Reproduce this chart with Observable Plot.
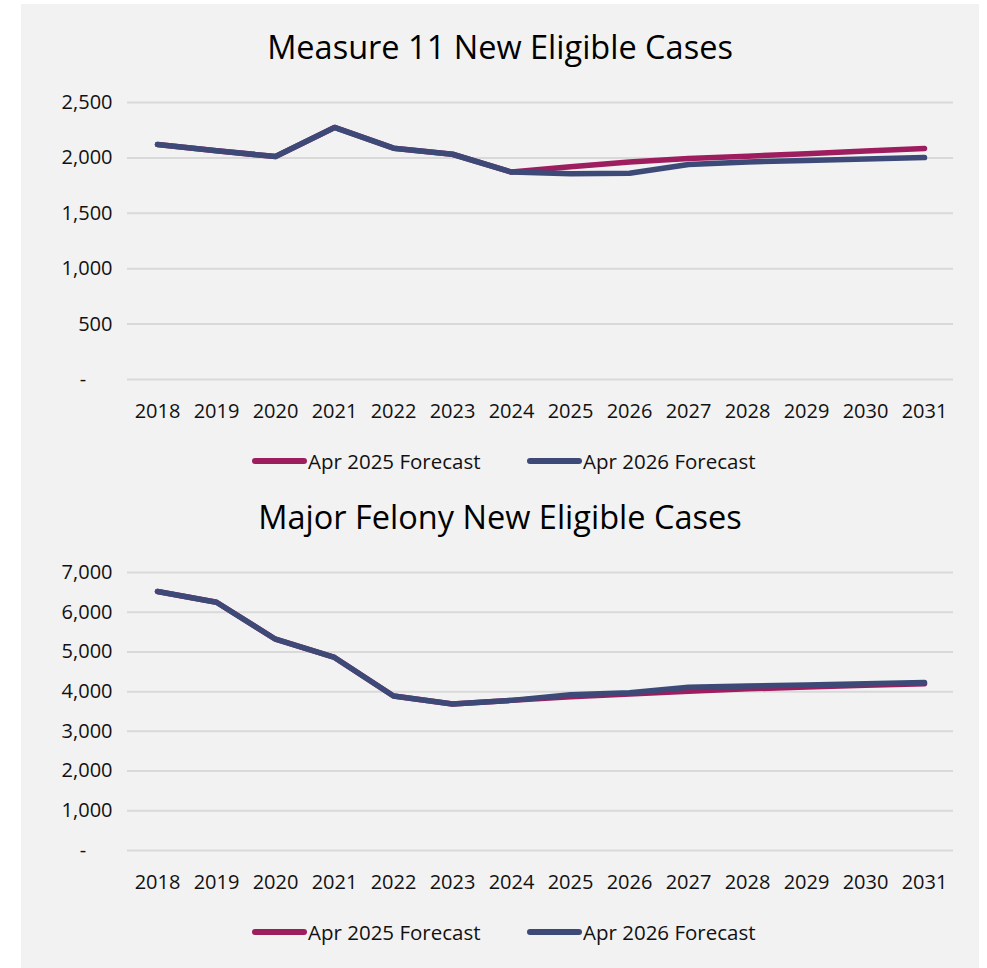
<!DOCTYPE html>
<html>
<head>
<meta charset="utf-8">
<script src="https://cdn.jsdelivr.net/npm/d3@7"></script>
<script src="https://cdn.jsdelivr.net/npm/@observablehq/plot@0.6"></script>
<style>
  body { margin: 0; background: #ffffff; font-family: "Open Sans", sans-serif; }
  #page { position: relative; width: 987px; height: 968px; overflow: hidden; }
  .panel { position: absolute; left: 21px; top: 4px; width: 958px; height: 964px; background: #f2f2f2; }
  .title { position: absolute; left: 21px; width: 958px; text-align: center; font-size: 32.5px; line-height: 40px; color: #000; }
  .chart { position: absolute; left: 0; }
  .legend-item { position: absolute; height: 24px; display: flex; align-items: center; font-size: 20.5px; color: #111; white-space: nowrap; }
  .swatch { width: 55px; height: 6px; border-radius: 3px; margin-right: 1px; }
</style>
</head>
<body>
<div id="page"><div class="panel"></div></div>
<script>
// Forecast years shown on the category axis
const years = [2018, 2019, 2020, 2021, 2022, 2023, 2024, 2025, 2026, 2027, 2028, 2029, 2030, 2031];

// Series names and colours
const seriesNames = ["Apr 2025 Forecast", "Apr 2026 Forecast"];
const seriesColors = ["#9d1d5f", "#3d4a77"];

// Measure 11 new eligible cases
const measure11Apr2025 = [2120, 2065, 2012, 2275, 2088, 2033, 1872, 1921, 1964, 1994, 2015, 2038, 2062, 2085];
const measure11Apr2026 = [2120, 2065, 2012, 2275, 2088, 2033, 1872, 1858, 1861, 1940, 1964, 1977, 1990, 2003];
const measure11Ticks = [0, 500, 1000, 1500, 2000, 2500];

// Major felony new eligible cases
const felonyApr2025 = [6520, 6250, 5320, 4860, 3890, 3690, 3780, 3870, 3940, 4010, 4070, 4120, 4160, 4200];
const felonyApr2026 = [6520, 6250, 5320, 4860, 3890, 3690, 3780, 3920, 3970, 4110, 4140, 4170, 4200, 4230];
const felonyTicks = [0, 1000, 2000, 3000, 4000, 5000, 6000, 7000];

const page = document.getElementById("page");

// Accounting-style labels: zero shows as a dash, padded like the digits after it
const tickLabel = d => d === 0 ? "-\u2007\u2007\u2009" : d3.format(",")(d);

function rowsFor(values, name) {
  return years.map((year, i) => ({year, value: values[i], series: name}));
}

function drawChart({title, titleTop, svgTop, marginBottom, ticks, a, b, legendTop}) {
  const t = document.createElement("div");
  t.className = "title";
  t.style.top = titleTop + "px";
  t.textContent = title;
  page.appendChild(t);

  const chart = Plot.plot({
    width: 987,
    height: 340,
    marginLeft: 127,
    marginRight: 34,
    marginTop: 12,
    marginBottom,
    style: {fontFamily: "Open Sans, sans-serif", fontSize: "20px", color: "#111", background: "transparent", overflow: "visible"},
    x: {type: "point", domain: years, padding: 0.5},
    y: {domain: [0, d3.max(ticks)]},
    color: {domain: seriesNames, range: seriesColors},
    marks: [
      Plot.gridY(ticks, {stroke: "#d9d9d9", strokeOpacity: 1, strokeWidth: 2}),
      Plot.axisY(ticks, {tickSize: 0, tickPadding: 15, tickFormat: tickLabel, label: null}),
      Plot.axisX({tickSize: 0, tickPadding: 24, tickFormat: d => String(d), label: null}),
      Plot.line(rowsFor(a, seriesNames[0]), {x: "year", y: "value", stroke: "series", strokeWidth: 5.5, strokeLinecap: "round", strokeLinejoin: "round"}),
      Plot.line(rowsFor(b, seriesNames[1]), {x: "year", y: "value", stroke: "series", strokeWidth: 5.5, strokeLinecap: "round", strokeLinejoin: "round"})
    ]
  });
  chart.classList.add("chart");
  chart.style.top = svgTop + "px";
  page.appendChild(chart);

  // Line-swatch legend below the chart
  const lefts = [252, 527];
  seriesNames.forEach((name, i) => {
    const item = document.createElement("div");
    item.className = "legend-item";
    item.style.left = lefts[i] + "px";
    item.style.top = legendTop + "px";
    const sw = document.createElement("span");
    sw.className = "swatch";
    sw.style.background = seriesColors[i];
    const label = document.createElement("span");
    label.textContent = name;
    item.appendChild(sw);
    item.appendChild(label);
    page.appendChild(item);
  });
}

drawChart({
  title: "Measure 11 New Eligible Cases",
  titleTop: 27, svgTop: 90, marginBottom: 51,
  ticks: measure11Ticks, a: measure11Apr2025, b: measure11Apr2026,
  legendTop: 449
});

drawChart({
  title: "Major Felony New Eligible Cases",
  titleTop: 497, svgTop: 560, marginBottom: 50,
  ticks: felonyTicks, a: felonyApr2025, b: felonyApr2026,
  legendTop: 920
});
</script>
</body>
</html>
